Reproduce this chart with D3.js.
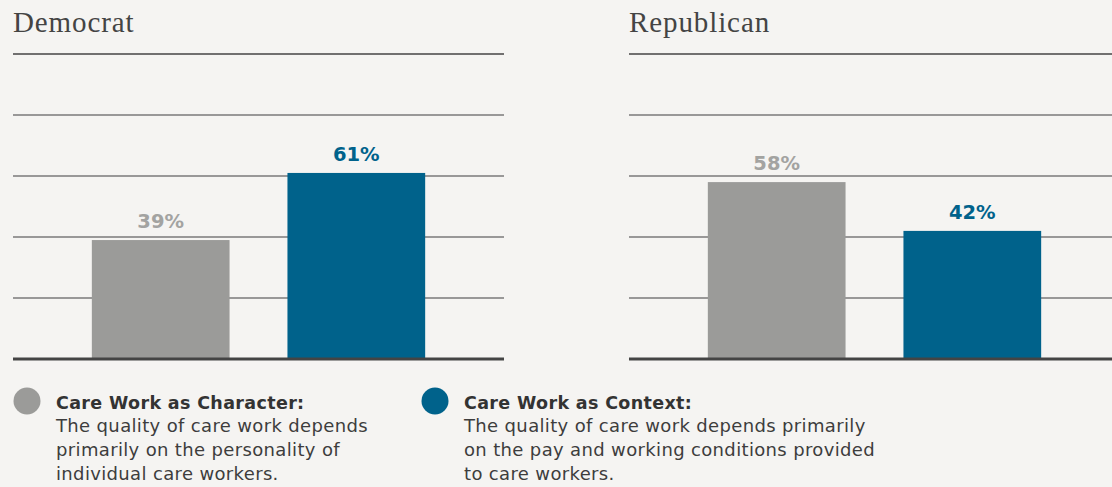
<!DOCTYPE html>
<html>
<head>
<meta charset="utf-8">
<script src="https://cdn.jsdelivr.net/npm/d3@7/dist/d3.min.js"></script>
<style>
  html, body { margin: 0; padding: 0; background: #f5f4f2; }
  svg { display: block; }
</style>
</head>
<body>
<svg id="chart" width="1112" height="487"></svg>
<script>
// ---- data ----
const panels = ["Democrat", "Republican"];
const categories = ["Care Work as Character", "Care Work as Context"];
const democratValues = [39, 61];
const republicanValues = [58, 42];
const yTicks = [0, 20, 40, 60, 80, 100];
const legendTitles = ["Care Work as Character:", "Care Work as Context:"];
const legendCharacterLines = ["The quality of care work depends", "primarily on the personality of", "individual care workers."];
const legendContextLines = ["The quality of care work depends primarily", "on the pay and working conditions provided", "to care workers."];

const seriesByPanel = [democratValues, republicanValues];
const legendLines = [legendCharacterLines, legendContextLines];

// ---- styles ----
const colors = d3.scaleOrdinal().domain(categories).range(["#9b9b99", "#00628b"]);
const labelColors = d3.scaleOrdinal().domain(categories).range(["#a3a3a1", "#00628b"]);
const sansFont = "'DejaVu Sans', sans-serif";
const serifFont = "'Liberation Serif', 'DejaVu Serif', serif";

const svg = d3.select("#chart");
svg.append("rect").attr("width", 1112).attr("height", 487).attr("fill", "#f5f4f2");

const y = d3.scaleLinear().domain([0, 100]).range([359, 54]);
const panelX = d3.scaleBand().domain(panels).range([13, 1120]).paddingInner(0.2029).paddingOuter(0);

panels.forEach((p, i) => {
  const x0 = panelX(p);
  const w = panelX.bandwidth();
  const g = svg.append("g");

  g.append("text")
    .attr("x", x0).attr("y", 32)
    .attr("font-family", serifFont).attr("font-size", 29).attr("letter-spacing", 0.9)
    .attr("fill", "#444").text(p);

  const x = d3.scaleBand().domain(categories).range([x0, x0 + w]).paddingInner(0.296).paddingOuter(0.403);

  // grid lines
  g.selectAll("line.grid").data(yTicks.filter(t => t > 0)).join("line")
    .attr("class", "grid")
    .attr("x1", x0).attr("x2", x0 + w)
    .attr("y1", d => y(d)).attr("y2", d => y(d))
    .attr("stroke", d => d === 100 ? "#444" : "#7a7a7a")
    .attr("stroke-width", d => d === 100 ? 1.3 : 1.5);

  const vals = seriesByPanel[i];
  g.selectAll("rect.bar").data(categories).join("rect")
    .attr("class", "bar")
    .attr("x", d => x(d)).attr("width", x.bandwidth())
    .attr("y", (d, j) => y(vals[j]))
    .attr("height", (d, j) => y(0) - y(vals[j]))
    .attr("fill", d => colors(d));

  g.selectAll("text.val").data(categories).join("text")
    .attr("class", "val")
    .attr("x", d => x(d) + x.bandwidth() / 2)
    .attr("y", (d, j) => y(vals[j]) - 12.3)
    .attr("text-anchor", "middle")
    .attr("font-family", sansFont).attr("font-weight", 700).attr("font-size", 19.5)
    .attr("fill", d => labelColors(d))
    .text((d, j) => vals[j] + "%");

  // baseline
  g.append("line")
    .attr("x1", x0).attr("x2", x0 + w)
    .attr("y1", y(0)).attr("y2", y(0))
    .attr("stroke", "#444").attr("stroke-width", 3);
});

// ---- legend ----
const legendX = d3.scaleOrdinal().domain(categories).range([27, 435]);
categories.forEach((c, i) => {
  const lx = legendX(c);
  const g = svg.append("g");
  g.append("circle").attr("cx", lx).attr("cy", 401).attr("r", 13.5).attr("fill", colors(c));
  g.append("text")
    .attr("x", lx + 29).attr("y", 408.5)
    .attr("font-family", sansFont).attr("font-weight", 700).attr("font-size", 17.5)
    .attr("letter-spacing", 0.35)
    .attr("fill", "#333").text(legendTitles[i]);
  g.selectAll("text.desc").data(legendLines[i]).join("text")
    .attr("class", "desc")
    .attr("x", lx + 29).attr("y", (d, k) => 432.3 + k * 24)
    .attr("font-family", sansFont).attr("font-size", 18)
    .attr("letter-spacing", 0.35)
    .attr("fill", "#3d3d3d").text(d => d);
});
</script>
</body>
</html>
